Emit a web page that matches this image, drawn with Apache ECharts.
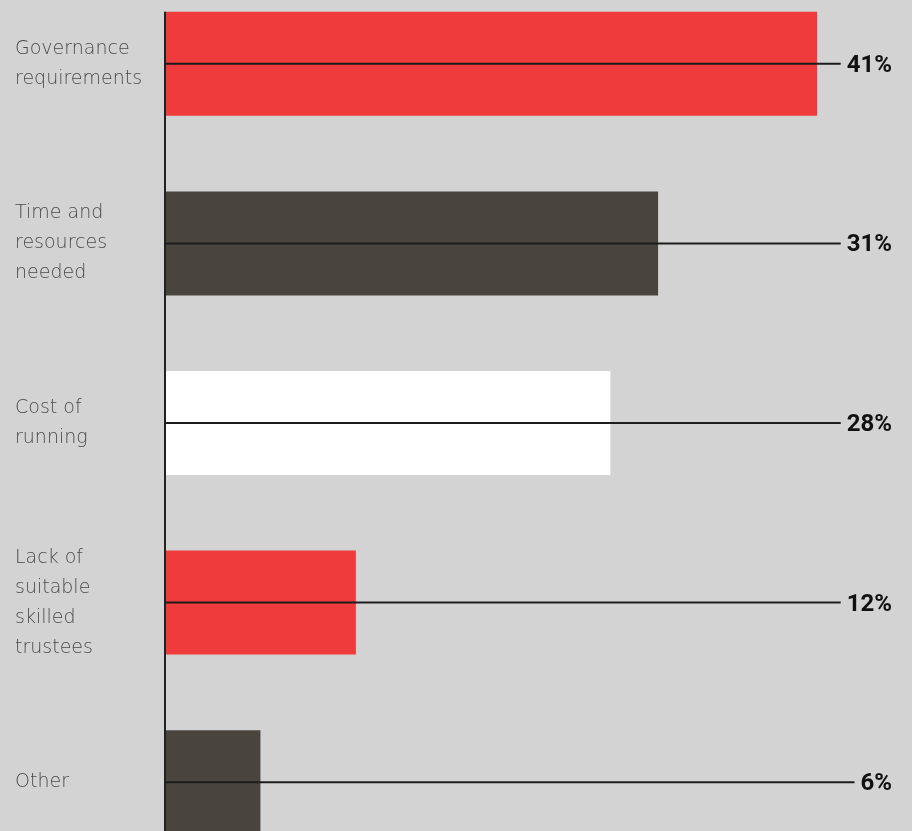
<!DOCTYPE html>
<html>
<head>
<meta charset="utf-8">
<script src="https://cdn.jsdelivr.net/npm/echarts@6/dist/echarts.min.js"></script>
<style>
html,body{margin:0;padding:0;background:#d3d3d3;}
#chart{width:912px;height:831px;}
</style>
</head>
<body>
<div id="chart"></div>
<script>
var categories = ['Governance\nrequirements', 'Time and\nresources\nneeded', 'Cost of\nrunning', 'Lack of\nsuitable\nskilled\ntrustees', 'Other'];
var values = [41, 31, 28, 12, 6];
var barColors = ['#ef3b3c', '#4a443f', '#ffffff', '#ef3b3c', '#4a443f'];

var barHeight = 104;
var labelRight = 892;
var labelFont = 'bold 24px Roboto';

var main = document.getElementById('chart');
var myChart = echarts.init(main);

// text width for the line end before the % label
var ctx = document.createElement('canvas').getContext('2d');
function textWidth(t){
  ctx.font = labelFont;
  return ctx.measureText(t).width;
}

var option = {
  backgroundColor: '#d3d3d3',
  animation: false,
  grid: {
    left: 165,
    right: 71,
    top: -26,
    height: 898,
    outerBoundsMode: 'none'      // v6 keeps grid inside the canvas otherwise
  },
  xAxis: {
    type: 'value',
    min: 0,
    max: 42.5,
    show: false
  },
  yAxis: {
    type: 'category',
    inverse: true,
    data: categories,
    axisLine: {show: false},
    axisTick: {show: false},
    axisLabel: {
      align: 'left',
      margin: 150,
      color: '#4a4a4a',
      fontFamily: 'DejaVu Sans',
      fontWeight: 200,
      fontSize: 19,
      lineHeight: 30,
      padding: [7, 0, 0, 0]
    }
  },
  series: [
    {
      type: 'bar',
      barWidth: barHeight,
      data: values.map(function(v, i){
        return {value: v, itemStyle: {color: barColors[i]}};
      })
    },
    {
      type: 'custom',
      z: 10,
      data: values.map(function(v, i){ return [v, i]; }),
      encode: {x: 0, y: 1},
      renderItem: function(params, api){
        var c = api.coord([0, api.value(1)]);
        var band = api.size([0, 1])[1];
        var txt = api.value(0) + '%';
        var w = textWidth(txt);
        var top = params.dataIndex === 0 ? c[1] - barHeight / 2 : c[1] - band / 2 - 1;
        return {
          type: 'group',
          children: [
            {type: 'line', shape: {x1: c[0], y1: top, x2: c[0], y2: c[1] + band / 2 + 1},
             style: {stroke: '#222222', lineWidth: 2}},
            {type: 'line', shape: {x1: c[0], y1: c[1], x2: labelRight - w - 6, y2: c[1]},
             style: {stroke: '#1c1c1c', lineWidth: 2}},
            {type: 'text', x: labelRight, y: c[1] + 2,
             style: {text: txt, align: 'right', verticalAlign: 'middle', font: labelFont, fill: '#111111'}}
          ]
        };
      }
    }
  ]
};

myChart.setOption(option);
</script>
</body>
</html>
